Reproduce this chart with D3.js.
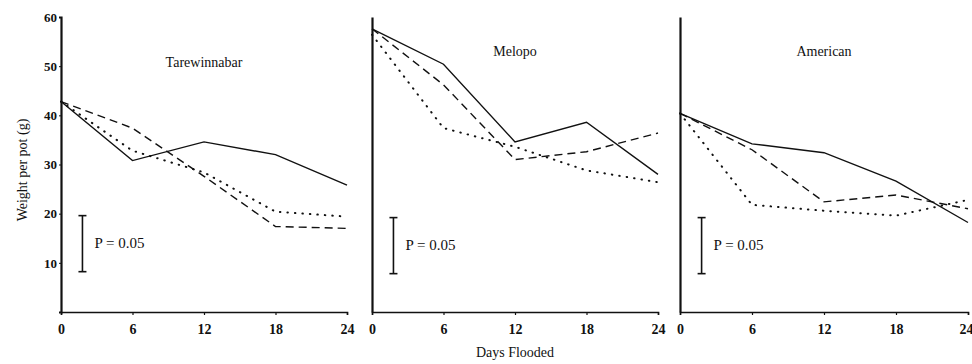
<!DOCTYPE html>
<html>
<head>
<meta charset="utf-8">
<script src="https://cdn.jsdelivr.net/npm/d3@7"></script>
<style>
  body { margin: 0; background: #fff; }
</style>
</head>
<body>
<script>
// values
const days = [0, 6, 12, 18, 24];
const yTicks = [10, 20, 30, 40, 50, 60];
const cultivars = ["Tarewinnabar", "Melopo", "American"];

const solidVals = [
  [42.8, 30.8, 34.6, 32.0, 25.8],
  [57.6, 50.4, 34.6, 38.6, 28.0],
  [40.4, 34.2, 32.4, 26.6, 18.2]
];
const dashedVals = [
  [42.8, 37.4, 27.6, 17.4, 17.0],
  [57.6, 46.2, 31.0, 32.6, 36.4],
  [40.4, 33.0, 22.4, 23.8, 21.0]
];
const dottedVals = [
  [42.8, 32.8, 28.4, 20.4, 19.4],
  [56.4, 37.4, 33.6, 28.8, 26.4],
  [40.4, 21.8, 20.6, 19.6, 22.8]
];
// LSD bar (P = 0.05) lower / upper end
const lsdLow = [8.2, 7.8, 7.8];
const lsdHigh = [19.6, 19.2, 19.2];
const lsdLabel = ["P = 0.05", "P = 0.05", "P = 0.05"];

const serif = "'Liberation Serif', 'Times New Roman', Times, serif";

const svg = d3.select("body").append("svg").attr("width", 972).attr("height", 364);

// layout
const panelLeft = [61, 372, 680];
const panelWidth = [286, 286, 288];
const plotTop = 17, plotBottom = 312;

const yScale = d3.scaleLinear().domain([0, 60]).range([plotBottom, plotTop]);

const styles = [
  {vals: solidVals, dash: null, width: 1.4, cap: "butt"},
  {vals: dashedVals, dash: "8,5", width: 1.4, cap: "butt"},
  {vals: dottedVals, dash: "0.5,7", width: 2, cap: "round"}
];

cultivars.forEach((name, p) => {
  const xScale = d3.scaleLinear().domain([0, 24]).range([panelLeft[p], panelLeft[p] + panelWidth[p]]);
  const g = svg.append("g").attr("class", "panel");

  // x axis
  const xAxis = d3.axisBottom(xScale).tickValues(days).tickSize(3).tickPadding(9);
  const gx = g.append("g")
    .attr("transform", `translate(0, ${plotBottom})`)
    .call(xAxis)
    .attr("font-family", serif);
  gx.select(".domain").attr("stroke", "#111").attr("stroke-width", 1.6);
  gx.selectAll(".tick line").attr("stroke", "#111").attr("stroke-width", 1.2);
  gx.selectAll("text").style("font-size", "14px").style("font-weight", "bold").attr("fill", "#111");
  if (p === 2) {
    // last label sits at the right edge of the page
    gx.selectAll(".tick text").filter(d => d === 24).attr("text-anchor", "end").attr("dx", 5);
  }

  // y axis
  const yAxis = d3.axisLeft(yScale).tickValues(yTicks).tickSize(p === 0 ? 2 : 0).tickPadding(2);
  const gy = g.append("g")
    .attr("transform", `translate(${panelLeft[p]}, 0)`)
    .call(yAxis)
    .attr("font-family", serif);
  gy.select(".domain").attr("stroke", "#111").attr("stroke-width", 2.2);
  gy.selectAll(".tick line").attr("stroke", "#111");
  gy.selectAll("text").style("font-size", "13px").style("font-weight", "bold").attr("fill", "#111");
  if (p > 0) gy.selectAll("text").remove();

  // title
  g.append("text")
    .attr("x", xScale(12))
    .attr("y", p === 0 ? 67 : 56)
    .attr("text-anchor", "middle")
    .attr("font-family", serif)
    .style("font-size", "14px")
    .attr("fill", "#111")
    .text(name);

  // series
  const line = d3.line().x((d, i) => xScale(days[i])).y(d => yScale(d));
  styles.forEach(s => {
    g.append("path")
      .attr("d", line(s.vals[p]))
      .attr("fill", "none")
      .attr("stroke", "#111")
      .attr("stroke-width", s.width)
      .attr("stroke-linecap", s.cap)
      .attr("stroke-dasharray", s.dash);
  });

  // LSD bar
  const bx = xScale(1.8);
  g.append("line")
    .attr("x1", bx).attr("x2", bx)
    .attr("y1", yScale(lsdLow[p])).attr("y2", yScale(lsdHigh[p]))
    .attr("stroke", "#111").attr("stroke-width", 1.6);
  [lsdLow[p], lsdHigh[p]].forEach(v => {
    g.append("line")
      .attr("x1", bx - 4).attr("x2", bx + 4)
      .attr("y1", yScale(v)).attr("y2", yScale(v))
      .attr("stroke", "#111").attr("stroke-width", 1.6);
  });
  g.append("text")
    .attr("x", bx + 12)
    .attr("y", yScale((lsdLow[p] + lsdHigh[p]) / 2) + 4)
    .attr("font-family", serif)
    .style("font-size", "15px")
    .attr("fill", "#111")
    .text(lsdLabel[p]);
});

// axis titles
svg.append("text")
  .attr("transform", `translate(27, 170) rotate(-90)`)
  .attr("text-anchor", "middle")
  .attr("font-family", serif)
  .style("font-size", "14px")
  .attr("fill", "#111")
  .text("Weight per pot (g)");

svg.append("text")
  .attr("x", 515)
  .attr("y", 357)
  .attr("text-anchor", "middle")
  .attr("font-family", serif)
  .style("font-size", "14px")
  .attr("fill", "#111")
  .text("Days Flooded");
</script>
</body>
</html>
